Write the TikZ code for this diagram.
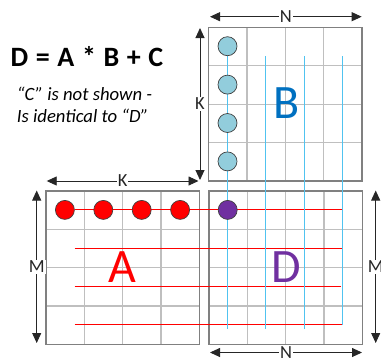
\documentclass[tikz,border=0pt]{standalone}
\usepackage{fontspec}
\setmainfont{Carlito}
\usetikzlibrary{arrows.meta}
\definecolor{gridin}{RGB}{191,191,191}
\definecolor{gridout}{RGB}{128,128,128}
\definecolor{bfill}{RGB}{146,205,220}
\definecolor{bletter}{RGB}{0,112,192}
\definecolor{lineblue}{RGB}{80,195,240}
\definecolor{mpurple}{RGB}{112,48,160}
\definecolor{dotedge}{RGB}{64,64,64}
\newcommand\matgrid[2]{%
  \foreach \i in {1,2,3} {
    \draw[gridinner] ({#1+\i*38.4},#2) -- ({#1+\i*38.4},{#2+153.6});
    \draw[gridinner] (#1,{#2+\i*38.4}) -- ({#1+153.6},{#2+\i*38.4});
  }
  \draw[gridouter] (#1,#2) rectangle ({#1+153.6},{#2+153.6});
}
\begin{document}
\begin{tikzpicture}[x=1pt,y=-1pt,
  gridinner/.style={draw=gridin,line width=1.2pt},
  gridouter/.style={draw=gridout,line width=1.6pt},
  redln/.style={draw=red,line width=1.1pt},
  blueln/.style={draw=lineblue,line width=1.2pt},
  dotbase/.style={circle,draw=dotedge,line width=0.7pt,minimum size=19pt,inner sep=0pt},
  bdot/.style={dotbase,fill=bfill},
  adot/.style={dotbase,fill=red},
  ddot/.style={dotbase,fill=mpurple},
  dimarrow/.style={draw=black!85,line width=0.9pt,{Triangle[length=10pt,width=9pt]}-{Triangle[length=10pt,width=9pt]}},
  dimlabel/.style={fill=white,inner sep=1pt,font=\fontsize{18.5}{22}\selectfont,text=black!85},
  bigletter/.style={font=\fontsize{48}{56}\selectfont}
]
\useasboundingbox (0,0) rectangle (381,360);

% grids
\matgrid{208.5}{27.3}
\matgrid{45.7}{190.7}
\matgrid{208.7}{190.7}

% red row lines
\draw[redln] (74.7,209.5) -- (343.3,209.5);
\draw[redln] (74.7,248.5) -- (343.3,248.5);
\draw[redln] (74.7,286.5) -- (340.7,286.5);
\draw[redln] (74.7,324.5) -- (343.3,324.5);

% blue column lines
\draw[blueln] (227.5,56) -- (227.5,329.3);
\draw[blueln] (265.5,56) -- (265.5,329.3);
\draw[blueln] (304.5,56) -- (304.5,329.3);
\draw[blueln] (342.5,56) -- (342.5,324.5);

% B dots
\node[bdot] (b1) at (227.5,46.2) {};
\node[bdot] (b2) at (227.5,84.6) {};
\node[bdot] (b3) at (227.5,123.0) {};
\node[bdot] (b4) at (227.5,161.4) {};
% A dots
\node[adot] (a1) at (64.9,209.9) {};
\node[adot] (a2) at (103.3,209.9) {};
\node[adot] (a3) at (141.7,209.9) {};
\node[adot] (a4) at (180.1,209.9) {};
% D dot
\node[ddot] (d1) at (227.7,209.9) {};

% big letters
\node[bigletter,text=bletter] (lb) at (286.8,103.2) {B};
\node[bigletter,text=red] (la) at (122.8,266.6) {A};
\node[bigletter,text=mpurple] (ld) at (286.0,266.6) {D};

% dimension arrows
\coordinate (nt1) at (210,16.7);  \coordinate (nt2) at (361.7,16.7);
\draw[dimarrow] (nt1) -- node[dimlabel] (ntl) {N} (nt2);
\coordinate (kb1) at (200,28);  \coordinate (kb2) at (200,180);
\draw[dimarrow] (kb1) -- node[dimlabel] (kbl) {K} (kb2);
\coordinate (ka1) at (46.7,181);  \coordinate (ka2) at (198.5,181);
\draw[dimarrow] (ka1) -- node[dimlabel] (kal) {K} (ka2);
\coordinate (ml1) at (36.7,190.5);  \coordinate (ml2) at (36.7,343);
\draw[dimarrow] (ml1) -- node[dimlabel] (mll) {M} (ml2);
\coordinate (mr1) at (375.7,190.5);  \coordinate (mr2) at (375.7,343);
\draw[dimarrow] (mr1) -- node[dimlabel] (mrl) {M} (mr2);
\coordinate (nb1) at (210,352.5);  \coordinate (nb2) at (362,352.5);
\draw[dimarrow] (nb1) -- node[dimlabel] (nbl) {N} (nb2);

% texts
\node[anchor=base west,inner sep=0pt,font=\fontsize{28}{32}\selectfont\bfseries] (title) at (10.5,66.7) {\spaceskip=7.6pt D = A * B + C};
\node[anchor=base west,inner sep=0pt,font=\fontsize{18.7}{22}\selectfont\itshape] (note1) at (16.7,100) {“C” is not shown -};
\node[anchor=base west,inner sep=0pt,font=\fontsize{18.7}{22}\selectfont\itshape] (note2) at (16.7,122.7) {Is identical to “D”};
\end{tikzpicture}
\end{document}
